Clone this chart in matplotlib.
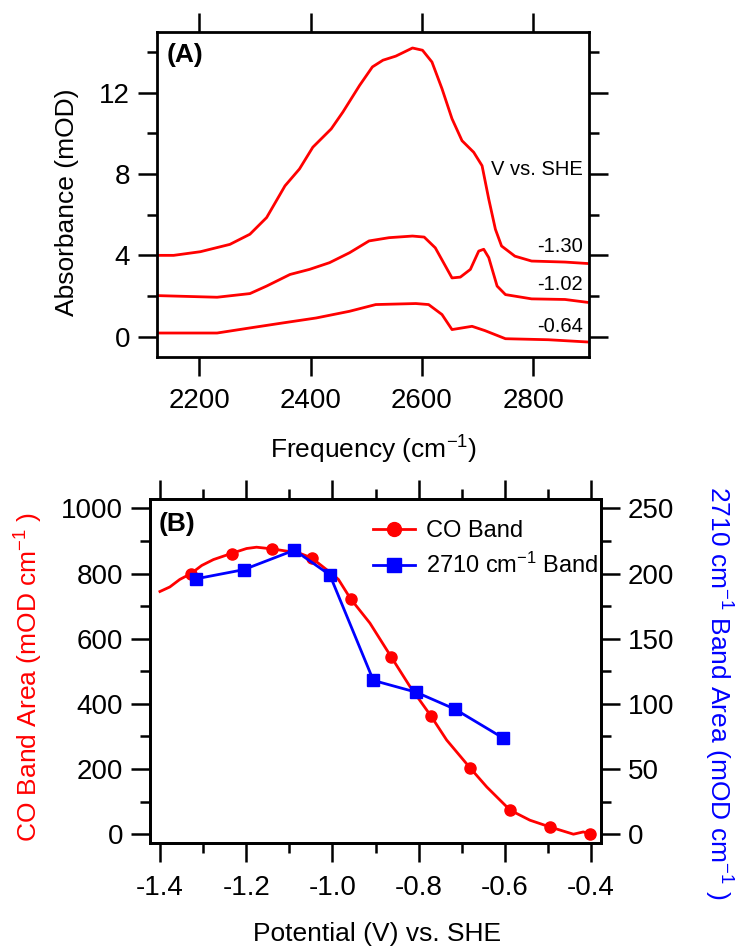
import matplotlib
matplotlib.use('Agg')
import matplotlib.pyplot as plt
from matplotlib.lines import Line2D
from matplotlib.ticker import MultipleLocator, FormatStrFormatter

plt.rcParams['font.family'] = ['Liberation Sans', 'DejaVu Sans']
plt.rcParams['mathtext.fontset'] = 'custom'
plt.rcParams['mathtext.rm'] = 'Liberation Sans'
plt.rcParams['mathtext.default'] = 'regular'
plt.rcParams['axes.unicode_minus'] = False

# (A) spectra
freq_130 = [2125, 2154, 2202, 2255, 2291, 2321, 2354, 2380, 2404, 2437, 2458,
            2488, 2511, 2530, 2553, 2583, 2601, 2618, 2636, 2654, 2672, 2693,
            2708, 2720, 2732, 2743, 2767, 2797, 2857, 2897]
abs_130 = [4.0, 4.0, 4.18, 4.54, 5.04, 5.86, 7.42, 8.25, 9.32, 10.22, 11.05,
           12.36, 13.27, 13.6, 13.8, 14.2, 14.09, 13.51, 12.2, 10.72, 9.64,
           9.07, 8.41, 6.77, 5.28, 4.46, 3.96, 3.72, 3.67, 3.6]

freq_102 = [2125, 2232, 2291, 2321, 2363, 2398, 2434, 2470, 2505, 2541, 2583,
            2604, 2624, 2654, 2669, 2687, 2702, 2711, 2720, 2735, 2750, 2797,
            2857, 2897]
abs_102 = [2.02, 1.94, 2.12, 2.49, 3.06, 3.31, 3.64, 4.13, 4.71, 4.87, 4.95,
           4.9, 4.37, 2.89, 2.93, 3.31, 4.21, 4.3, 3.89, 2.49, 2.07, 1.86,
           1.83, 1.69]

freq_064 = [2125, 2232, 2291, 2351, 2410, 2470, 2517, 2589, 2612, 2636, 2654,
            2672, 2690, 2713, 2750, 2827, 2897]
abs_064 = [0.18, 0.18, 0.43, 0.68, 0.92, 1.25, 1.58, 1.63, 1.58, 1.09, 0.35,
           0.43, 0.51, 0.3, -0.1, -0.15, -0.26]

spectra_labels = ['-1.30', '-1.02', '-0.64']
label_y = [4.18, 2.30, 0.25]

# (B) band areas
co_curve_v = [-1.40, -1.377, -1.354, -1.328, -1.303, -1.276, -1.234, -1.199,
              -1.176, -1.141, -1.106, -1.075, -1.048, -0.999, -0.986, -0.958,
              -0.913, -0.864, -0.820, -0.772, -0.735, -0.681, -0.642, -0.588,
              -0.542, -0.495, -0.441, -0.418, -0.402]
co_curve_a = [745, 759, 782, 800, 825, 843, 862, 877, 881, 876, 869, 862, 848,
              797, 782, 723, 648, 545, 453, 364, 289, 204, 145, 74, 43, 22, 0,
              7, 0]
co_pts_v = [-1.328, -1.234, -1.141, -1.048, -0.958, -0.864, -0.772, -0.681,
            -0.588, -0.495, -0.402]
co_pts_a = [800, 860, 876, 848, 723, 545, 364, 204, 74, 22, 0]
b2710_v = [-1.316, -1.206, -1.088, -1.006, -0.905, -0.806, -0.716, -0.605]
b2710_a = [196, 203, 218, 199, 118, 109, 96, 74]

RED = '#ff0000'
BLUE = '#0000ff'
FS = 19
TFS = 20


def style(ax, sides):
    for s in ax.spines.values():
        s.set_linewidth(2.0)
    ax.tick_params(which='both', direction='out', width=1.8, labelsize=TFS,
                   pad=6, **sides)
    ax.tick_params(which='major', length=13.5)
    ax.tick_params(which='minor', length=7)


fig = plt.figure(figsize=(7.39, 9.5), dpi=100)

# ---- panel A
axA = fig.add_axes([0.2124, 0.6242, 0.5850, 0.3424])
for f, a in [(freq_130, abs_130), (freq_102, abs_102), (freq_064, abs_064)]:
    axA.plot(f, a, color=RED, lw=2.0)
axA.set_xlim(2124, 2900.6)
axA.set_ylim(-1, 15)
axA.xaxis.set_major_locator(MultipleLocator(200))
axA.yaxis.set_major_locator(MultipleLocator(4))
axA.yaxis.set_minor_locator(MultipleLocator(2))
style(axA, dict(top=True, right=True, labeltop=False, labelright=False))
axA.tick_params(axis='x', which='major', pad=9)
axA.set_ylabel('Absorbance (mOD)', fontsize=FS, va='center', ha='center')
axA.yaxis.set_label_coords(-0.208, 0.4765)
axA.set_xlabel('Frequency (cm$^{-1}$)', fontsize=FS, va='center')
axA.xaxis.set_label_coords(0.5, -0.285)
axA.text(0.023, 0.965, '(A)', transform=axA.transAxes, fontsize=FS,
         fontweight='bold', va='top', ha='left')
axA.text(2889, 7.95, 'V vs. SHE', ha='right', va='baseline', fontsize=14.5)
for lab, y in zip(spectra_labels, label_y):
    axA.text(2889, y, lab, ha='right', va='baseline', fontsize=14.5)

# ---- panel B
axB = fig.add_axes([0.2030, 0.1123, 0.6103, 0.3621])
axB.plot(co_curve_v, co_curve_a, color=RED, lw=2.0)
axB.plot(co_pts_v, co_pts_a, 'o', color=RED, ms=8)
axB.set_xlim(-1.423, -0.377)
axB.set_ylim(-28, 1028)
axB.xaxis.set_major_locator(MultipleLocator(0.2))
axB.xaxis.set_minor_locator(MultipleLocator(0.1))
axB.xaxis.set_major_formatter(FormatStrFormatter('%.1f'))
axB.yaxis.set_major_locator(MultipleLocator(200))
axB.yaxis.set_minor_locator(MultipleLocator(100))
style(axB, dict(top=True, right=False, labeltop=False))
axB.tick_params(axis='x', which='major', pad=9)
axB.set_ylabel('CO Band Area (mOD cm$^{-1}$ )', fontsize=FS, color=RED,
               va='center', ha='center')
axB.yaxis.set_label_coords(-0.268, 0.483)
axB.set_xlabel('Potential (V) vs. SHE', fontsize=FS, va='center')
axB.xaxis.set_label_coords(0.504, -0.265)
axB.text(0.02, 0.963, '(B)', transform=axB.transAxes, fontsize=FS,
         fontweight='bold', va='top', ha='left')

ax2 = axB.twinx()
ax2.plot(b2710_v, b2710_a, '-s', color=BLUE, lw=2.0, ms=8)
ax2.set_ylim(-7, 257)
ax2.yaxis.set_major_locator(MultipleLocator(50))
ax2.yaxis.set_minor_locator(MultipleLocator(25))
style(ax2, dict(right=True, left=False))
ax2.set_ylabel('2710 cm$^{-1}$ Band Area (mOD cm$^{-1}$ )', fontsize=FS,
               color=BLUE, rotation=270, va='center', ha='center')
ax2.yaxis.set_label_coords(1.259, 0.437)

handles = [Line2D([], [], color=RED, marker='o', ms=10, lw=2.0),
           Line2D([], [], color=BLUE, marker='s', ms=10, lw=2.0)]
ax2.legend(handles, ['CO Band', '2710 cm$^{-1}$ Band'], loc='upper left',
           bbox_to_anchor=(0.494, 0.94), frameon=False, fontsize=17,
           handlelength=1.8, handletextpad=0.45, borderpad=0,
           borderaxespad=0, labelspacing=0.45)

fig.savefig('out.png', dpi=100)
